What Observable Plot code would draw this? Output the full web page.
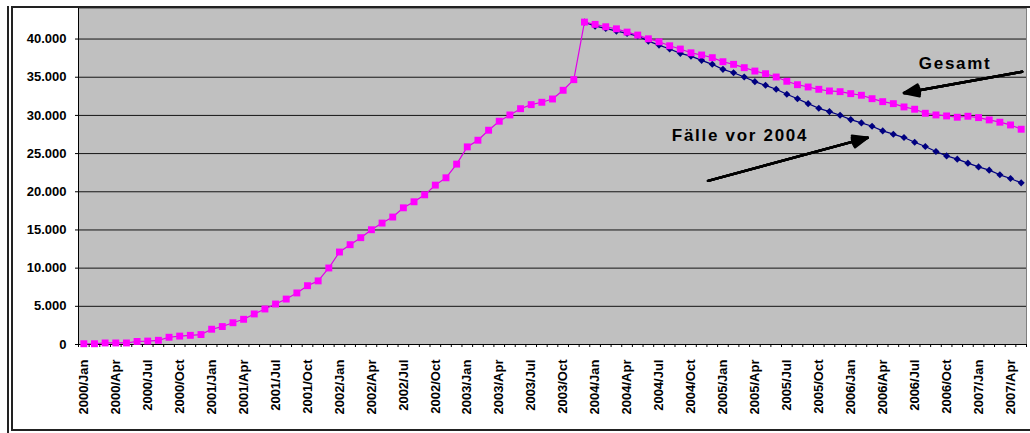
<!DOCTYPE html>
<html><head><meta charset="utf-8">
<script src="https://cdn.jsdelivr.net/npm/d3@7"></script>
<script src="https://cdn.jsdelivr.net/npm/@observablehq/plot@0.6"></script>
<style>
body{margin:0;background:#fff;}
#wrap{position:relative;width:1030px;height:433px;overflow:hidden;background:#fff;}
#wrap svg{position:absolute;left:0;top:0;}
.fr{position:absolute;pointer-events:none;}
</style></head><body><div id="wrap"></div>
<script>
// Category labels (months 2000/Jan .. 2007/May)
const years = [2000, 2001, 2002, 2003, 2004, 2005, 2006, 2007];
const monthNames = ["Jan","Feb","Mar","Apr","May","Jun","Jul","Aug","Sep","Oct","Nov","Dec"];
const monthLabels = years.flatMap(y => monthNames.map(m => `${y}/${m}`)).slice(0, 89);

// Series "Gesamt" (all cases), one value per month
const gesamt = [
  100, 100, 200, 200, 200, 400, 450, 550, 950, 1100, 1200, 1300,
  2000, 2350, 2850, 3300, 4000, 4650, 5300, 5950, 6750, 7700, 8330, 10020,
  12110, 13070, 13990, 15030, 15900, 16690, 17900, 18690, 19600, 20870, 21830, 23620,
  25880, 26750, 28060, 29240, 30060, 30880, 31410, 31720, 32150, 33290, 34680, 42220,
  41920, 41610, 41340, 40910, 40520, 40030, 39640, 39120, 38690, 38200, 37910, 37560,
  37030, 36690, 36250, 35810, 35460, 35030, 34470, 34020, 33720, 33420, 33200, 33110,
  32850, 32640, 32190, 31800, 31540, 31110, 30810, 30280, 30060, 29930, 29760, 29890,
  29710, 29410, 29110, 28750, 28190
];

// Series "Fälle vor 2004" from 2003/Dec onwards
const vor2004Start = 47;
const vor2004 = [
  42220, 41690, 41390, 41040, 40740, 40390, 39730, 39210, 38690, 38130,
  37770, 37210, 36690, 36030, 35590, 35030, 34420, 33940, 33420, 32770,
  32190, 31540, 30930, 30500, 30020, 29450, 29020, 28580, 27970, 27540,
  27100, 26490, 25920, 25270, 24700, 24270, 23750, 23260, 22830, 22220,
  21740, 21170
];

const yTicks = [0, 5000, 10000, 15000, 20000, 25000, 30000, 35000, 40000];
const xLabelTicks = d3.range(0, 89, 3);
const xBoundaries = d3.range(-0.5, 89, 1);

const gesamtData = gesamt.map((v, i) => ({i, v}));
const vorData = vor2004.map((v, k) => ({i: k + vor2004Start, v}));

const fmt = d => d === 0 ? "0" : d3.format(",")(d).replace(/,/g, ".");

const arrowMarks = (x1, y1, x2, y2) => [44, 32, 20, 8].map(a =>
  Plot.arrow([0], {x1, y1, x2, y2, stroke: "#000", strokeWidth: 2.4, headLength: 10, headAngle: a}));

const chart = Plot.plot({
  width: 1030,
  height: 433,
  marginLeft: 78,
  marginRight: 4,
  marginTop: 8,
  marginBottom: 89,
  style: {fontFamily: "'Liberation Sans', Arial, sans-serif", fontSize: "13px", fontWeight: "bold", background: "transparent", color: "#000"},
  x: {type: "linear", domain: [-0.5, 88.5], label: null},
  y: {domain: [0, 44000], label: null},
  marks: [
    Plot.frame({fill: "#C0C0C0", stroke: "#808080"}),
    Plot.gridY(yTicks.filter(d => d > 0), {stroke: "#000", strokeOpacity: 0.9}),
    Plot.ruleX([-0.5], {stroke: "#000"}),
    Plot.ruleY([0], {stroke: "#000"}),
    Plot.axisY({ticks: yTicks, tickSize: 3, tickPadding: 9, tickFormat: fmt, label: null}),
    Plot.axisX({ticks: xBoundaries, tickSize: 3, tickFormat: () => "", label: null}),
    Plot.axisX({ticks: xLabelTicks, tickSize: 0, tickPadding: 15, tickRotate: -90, tickFormat: i => monthLabels[i], label: null}),
    Plot.line(vorData, {x: "i", y: "v", stroke: "#000080", strokeWidth: 1.2}),
    Plot.dot(vorData, {x: "i", y: "v", symbol: "diamond2", r: 3.2, fill: "#000080", stroke: "none"}),
    Plot.line(gesamtData, {x: "i", y: "v", stroke: "#E000E8", strokeWidth: 1.2}),
    Plot.dot(gesamtData, {x: "i", y: "v", symbol: "square", r: 3.9, fill: "#FF00FF", stroke: "none"}),
    ...arrowMarks(88.1, 35720, 77.0, 32940),
    ...arrowMarks(58.6, 21430, 73.6, 27090),
    Plot.text([{t: "Gesamt", i: 81.8, v: 36790}, {t: "Fälle vor 2004", i: 61.6, v: 27310}], {x: "i", y: "v", text: "t", fontSize: 17, fontWeight: "bold", fill: "#000", textAnchor: "middle"})
  ]
});

chart.querySelectorAll("text").forEach(t => {
  if (t.textContent === "Gesamt" || t.textContent === "Fälle vor 2004") t.style.letterSpacing = "1.7px";
});

const wrap = document.getElementById("wrap");
wrap.appendChild(chart);
const f1 = document.createElement("div");
f1.className = "fr";
f1.style.cssText = "left:7px;top:6px;width:2px;height:427px;background:#222;";
const f2 = document.createElement("div");
f2.className = "fr";
f2.style.cssText = "left:11px;top:6px;width:1030px;height:421px;border-top:2px solid #222;border-left:2px solid #222;border-bottom:2px solid #222;";
wrap.appendChild(f1);
wrap.appendChild(f2);
</script></body></html>
